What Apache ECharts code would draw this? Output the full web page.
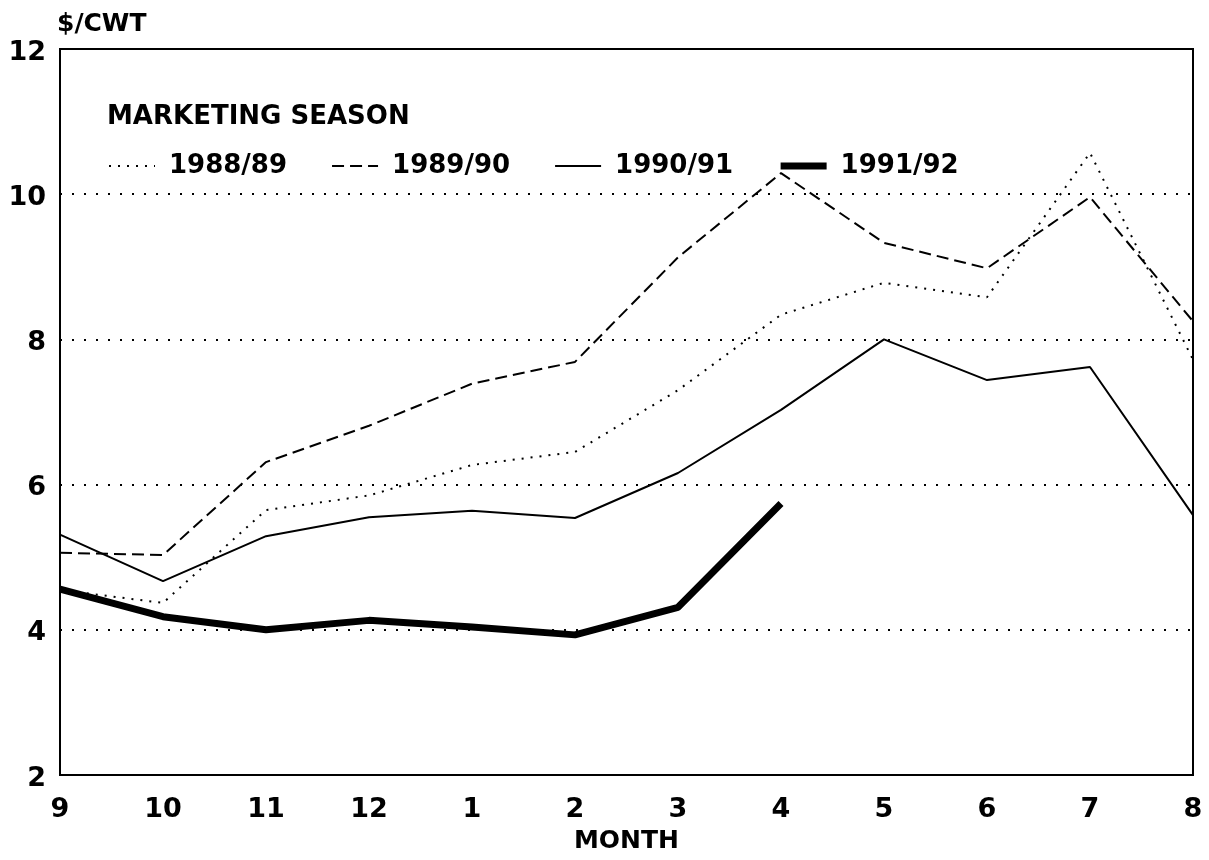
<!DOCTYPE html>
<html>
<head>
<meta charset="utf-8">
<script src="https://cdn.jsdelivr.net/npm/echarts@6/dist/echarts.min.js"></script>
<style>
html,body{margin:0;padding:0;background:#fff;}
#chart{width:1209px;height:860px;}
</style>
</head>
<body>
<div id="chart"></div>
<script>
const months = ['9','10','11','12','1','2','3','4','5','6','7','8'];
const seasonNames = ['1988/89','1989/90','1990/91','1991/92'];
const s198889 = [4.55, 4.37, 5.65, 5.85, 6.27, 6.45, 7.30, 8.34, 8.78, 8.58, 10.57, 7.72];
const s198990 = [5.06, 5.03, 6.31, 6.81, 7.39, 7.69, 9.13, 10.29, 9.33, 8.98, 9.96, 8.25];
const s199091 = [5.31, 4.67, 5.29, 5.55, 5.64, 5.54, 6.16, 7.03, 8.00, 7.44, 7.62, 5.58];
const s199192 = [4.56, 4.18, 4.00, 4.13, 4.04, 3.93, 4.31, 5.74];
const yTicks = {min: 2, max: 12, interval: 2};

const FONT = 'DejaVu Sans';
const styles = [
  {color: '#000', width: 2, type: [2, 7]},
  {color: '#000', width: 2, type: [12, 6]},
  {color: '#000', width: 2, type: 'solid'},
  {color: '#000', width: 7, type: 'solid'}
];
const chart = echarts.init(document.getElementById('chart'));
const baseLine = {type: 'line', symbol: 'none', smooth: false, z: 3};
chart.setOption({
  animation: false,
  backgroundColor: '#fff',
  title: [
    {text: '$/CWT', left: 57, top: 12, padding: 0,
     textStyle: {fontFamily: FONT, fontWeight: 'bold', fontSize: 25, color: '#000'}},
    {text: 'MARKETING SEASON', left: 107, top: 104, padding: 0,
     textStyle: {fontFamily: FONT, fontWeight: 'bold', fontSize: 26, color: '#000'}}
  ],
  legend: {
    left: 108, top: 153, padding: 0,
    itemWidth: 46, itemHeight: 14, itemGap: 44,
    itemStyle: {opacity: 0},
    textStyle: {fontFamily: FONT, fontWeight: 'bold', fontSize: 26, color: '#000', padding: [0, 0, 0, 9]},
    data: seasonNames.map((n, i) => ({name: n, lineStyle: Object.assign({}, styles[i]), itemStyle: {opacity: 0}}))
  },
  grid: {left: 60, right: 16, top: 49, bottom: 85, show: true,
         borderColor: '#000', borderWidth: 2, backgroundColor: 'transparent'},
  xAxis: {
    type: 'category', data: months, boundaryGap: false,
    name: 'MONTH', nameLocation: 'middle', nameGap: 54,
    nameTextStyle: {fontFamily: FONT, fontWeight: 'bold', fontSize: 25, color: '#000'},
    axisLine: {show: true, lineStyle: {color: '#000', width: 2}},
    axisTick: {show: false},
    axisLabel: {fontFamily: FONT, fontWeight: 'bold', fontSize: 27, color: '#000', margin: 21},
    splitLine: {show: false}
  },
  yAxis: {
    type: 'value', min: yTicks.min, max: yTicks.max, interval: yTicks.interval,
    axisLine: {show: true, lineStyle: {color: '#000', width: 2}},
    axisTick: {show: false},
    axisLabel: {fontFamily: FONT, fontWeight: 'bold', fontSize: 27, color: '#000', margin: 14,
                verticalAlign: 'top', padding: [-10, 0, 0, 0]},
    splitLine: {show: true, lineStyle: {color: '#000', width: 2, type: [2, 10]}}
  },
  series: [
    Object.assign({}, baseLine, {name: seasonNames[0], data: s198889, lineStyle: styles[0], itemStyle: {color: '#000'}}),
    Object.assign({}, baseLine, {name: seasonNames[1], data: s198990, lineStyle: styles[1], itemStyle: {color: '#000'}}),
    Object.assign({}, baseLine, {name: seasonNames[2], data: s199091, lineStyle: styles[2], itemStyle: {color: '#000'}}),
    Object.assign({}, baseLine, {name: seasonNames[3], data: s199192, lineStyle: styles[3], itemStyle: {color: '#000'}})
  ]
});
</script>
</body>
</html>
